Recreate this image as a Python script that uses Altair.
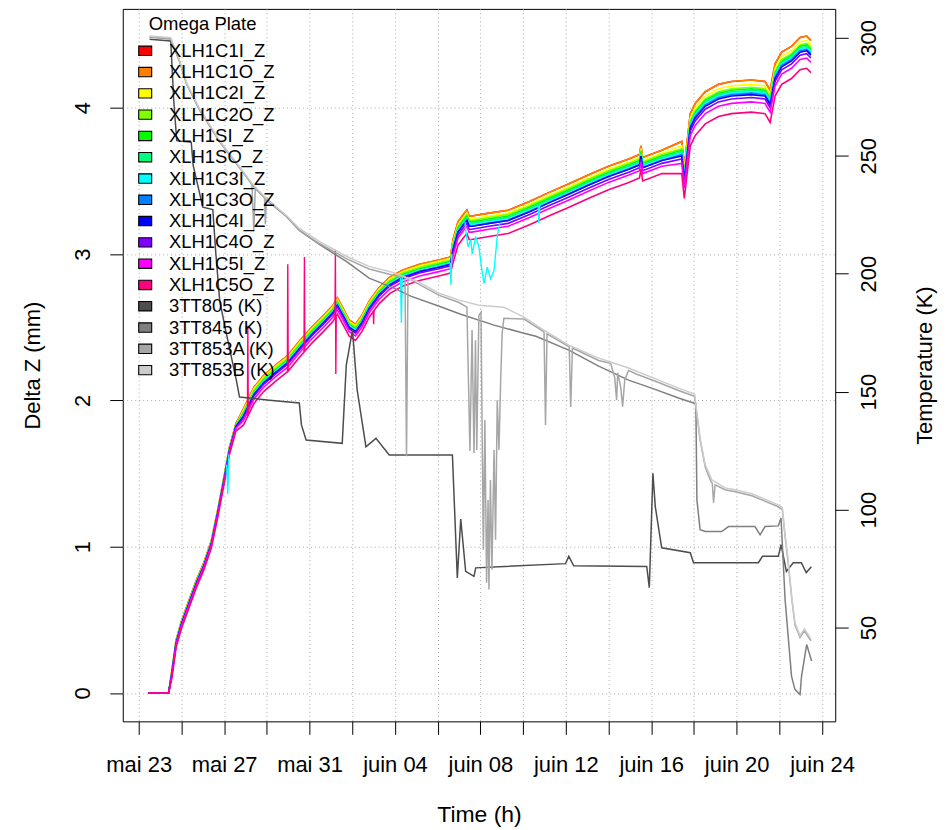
import json
import altair as alt
import pandas as pd

# ---------------- axes / labels ----------------
XTICKS = [0, 2, 4, 6, 8, 10, 12, 14, 16, 18, 20, 22, 24, 26, 28, 30, 32]   # days since mai 23
XLABELS = ["mai 23", "mai 27", "mai 31", "juin 04", "juin 08", "juin 12", "juin 16", "juin 20", "juin 24"]
Z_TICKS = [0, 1, 2, 3, 4]
T_TICKS = [50, 100, 150, 200, 250, 300]
LEGEND_TITLE = "Omega Plate"

Z_NAMES = ["XLH1C1I_Z", "XLH1C1O_Z", "XLH1C2I_Z", "XLH1C2O_Z", "XLH1SI_Z", "XLH1SO_Z",
           "XLH1C3I_Z", "XLH1C3O_Z", "XLH1C4I_Z", "XLH1C4O_Z", "XLH1C5I_Z", "XLH1C5O_Z"]
Z_COLORS = ["#FF0000", "#FF8000", "#FFFF00", "#80FF00", "#00FF00", "#00FF80",
            "#00FFFF", "#0080FF", "#0000FF", "#8000FF", "#FF00FF", "#FF0080"]
T_NAMES = ["3TT805 (K)", "3TT845 (K)", "3TT853A (K)", "3TT853B (K)"]
T_COLORS = ["#4D4D4D", "#7F7F7F", "#A6A6A6", "#CCCCCC"]

# ---------------- displacement (mm) ----------------
T_Z = [0.45, 1.40, 1.55, 1.75, 2.00, 2.40, 2.70, 3.05, 3.40, 3.70,
       4.00, 4.25, 4.55, 4.90, 5.40, 5.85, 6.40, 7.00, 7.50, 8.10,
       8.65, 9.10, 9.30, 9.60, 9.85, 10.15, 10.45, 10.80, 11.25, 11.75,
       12.35, 13.15, 14.05, 14.60, 14.72, 14.95, 15.20, 15.37, 15.47, 15.60,
       16.40, 17.30, 18.30, 19.20, 20.15, 21.05, 22.00, 22.95, 23.45, 23.52,
       23.60, 24.50, 25.43, 25.55, 25.83, 26.06, 26.53, 27.15, 27.76, 28.69,
       29.33, 29.57, 29.80, 30.11, 30.57, 30.97, 31.28, 31.48]
# top (orange) trace
Z_TOP = [0.00, 0.00, 0.15, 0.36, 0.49, 0.65, 0.77, 0.89, 1.04, 1.25,
         1.48, 1.68, 1.84, 1.94, 2.09, 2.17, 2.24, 2.31, 2.40, 2.50,
         2.58, 2.65, 2.70, 2.62, 2.55, 2.52, 2.58, 2.68, 2.77, 2.84,
         2.89, 2.93, 2.96, 2.98, 3.10, 3.22, 3.27, 3.30, 3.26, 3.26,
         3.28, 3.30, 3.36, 3.42, 3.48, 3.54, 3.60, 3.65, 3.68, 3.74,
         3.66, 3.71, 3.77, 3.60, 3.96, 4.03, 4.11, 4.16, 4.18, 4.19,
         4.18, 4.12, 4.30, 4.38, 4.42, 4.48, 4.49, 4.46]
# which spread period each sample belongs to
Z_PHASE = [0, 0, 1, 1, 1, 1, 1, 1, 1, 1,
           1, 1, 1, 2, 2, 2, 2, 2, 2, 2,
           2, 2, 2, 2, 2, 2, 2, 2, 2, 2,
           2, 2, 2, 2, 3, 3, 3, 3, 3, 3,
           3, 3, 3, 3, 3, 3, 3, 3, 3, 3,
           3, 3, 4, 4, 4, 4, 4, 4, 4, 4,
           4, 4, 4, 4, 4, 4, 4, 4]
# gap below the top trace, in 0.01 mm, for each period
Z_GAP = {
    "XLH1C1I_Z": [0, 0, 0, 0, 0],
    "XLH1C1O_Z": [0, 0, 0, 0, 0],
    "XLH1C2I_Z": [0, 1, 1, 2, 3],
    "XLH1C2O_Z": [0, 1, 2, 3, 5],
    "XLH1SI_Z":  [0, 1, 3, 4, 6],
    "XLH1SO_Z":  [0, 2, 4, 5, 7],
    "XLH1C3I_Z": [0, 2, 4, 6, 8],
    "XLH1C3O_Z": [0, 2, 5, 7, 9],
    "XLH1C4I_Z": [0, 2, 5, 7, 10],
    "XLH1C4O_Z": [0, 3, 6, 9, 12],
    "XLH1C5I_Z": [0, 3, 8, 11, 15],
    "XLH1C5O_Z": [0, 5, 11, 16, 22],
}
CYAN_DIP_T = [[4.12, 4.17, 4.22], [12.26, 12.30, 12.34], [14.58, 14.62, 14.66],
              [15.28, 15.31, 15.42, 15.55, 15.62, 15.78, 15.93, 16.09, 16.17, 16.32, 16.48, 16.64, 16.79, 16.90],
              [18.70, 18.74, 18.78]]
CYAN_DIP_Z = [[1.56, 1.36, 1.63], [2.84, 2.53, 2.85], [2.94, 2.79, 3.00],
              [3.22, 3.17, 3.05, 3.10, 3.00, 3.12, 3.05, 2.87, 2.80, 2.91, 2.83, 2.89, 3.12, 3.21],
              [3.33, 3.21, 3.33]]
ROSE_SPIKE_T = [[5.09, 5.11, 5.13], [6.96, 6.98, 7.00], [7.74, 7.76, 7.78],
                [9.19, 9.21, 9.23, 9.25], [10.98, 11.00, 11.02]]
ROSE_SPIKE_Z = [[1.89, 2.51, 1.90], [2.20, 2.93, 2.20], [2.33, 2.98, 2.34],
                [2.56, 3.03, 2.18, 2.57], [2.61, 2.52, 2.62]]

# ---------------- temperatures (K) ----------------
T805 = [0.51, 1.50, 1.64, 1.78, 2.46, 2.55, 3.00, 3.47, 3.60, 3.79, 4.07, 4.57, 4.72, 6.12, 7.52,
        7.62, 7.84, 9.53, 9.72, 10.01, 10.23, 10.64, 11.11, 11.73, 14.69, 14.92, 15.08, 15.31, 15.70,
        15.78, 19.99, 20.14, 20.37, 23.79, 23.91, 24.08, 24.19, 24.49, 25.83, 25.98, 29.02, 29.21,
        29.95, 30.08, 30.33, 30.65, 31.03, 31.26, 31.50]
K805 = [299.4, 298.7, 273.4, 256.4, 255.7, 245.9, 228.2, 227.2, 209.9, 188.7, 176.1, 154.9, 147.7, 146.4, 145.2,
        135.9, 129.5, 128.1, 161.3, 176.1, 150.7, 126.6, 130.2, 123.2, 123.2, 71.0, 96.0, 73.8, 71.7,
        75.3, 77.1, 80.2, 76.2, 75.9, 66.9, 115.4, 101.3, 83.8, 81.7, 77.5, 77.5, 80.2,
        80.2, 85.1, 73.8, 77.5, 77.5, 73.3, 75.8]
T845 = [0.51, 1.50, 1.92, 2.24, 2.85, 3.79, 4.72, 5.42, 6.12, 6.92, 7.52, 8.46, 9.72, 10.79, 11.87,
        12.74, 14.07, 15.08, 16.64, 18.04, 18.60, 20.14, 21.54, 22.94, 24.02, 25.28, 25.98, 26.09,
        26.14, 26.29, 26.53, 27.30, 27.62, 28.86, 29.10, 29.33, 29.95, 30.08, 30.27, 30.57, 30.73,
        30.97, 31.04, 31.28, 31.51]
K845 = [300.4, 299.6, 289.8, 280.5, 269.5, 256.0, 245.0, 236.5, 230.2, 224.3, 218.4, 212.4, 205.2, 198.1, 194.2,
        190.5, 186.2, 182.8, 178.2, 174.8, 173.5, 167.6, 160.8, 154.9, 151.5, 147.3, 145.2, 144.8,
        104.1, 91.5, 90.7, 90.7, 92.8, 92.8, 89.3, 92.8, 93.1, 96.4, 61.8, 29.4, 23.8,
        21.6, 29.4, 42.8, 35.8]
T853A = [0.51, 1.50, 1.92, 2.24, 2.85, 3.79, 4.72, 5.30, 5.39, 5.46, 5.89, 5.93, 5.98, 6.92, 7.52,
         8.46, 9.72, 10.79, 11.87, 12.47, 12.54, 12.61, 13.13, 14.07, 15.00, 15.37, 15.51, 15.61, 15.70,
         15.77, 15.83, 15.93, 16.03, 16.09, 16.14, 16.21, 16.29, 16.36, 16.40, 16.47, 16.54, 16.64,
         16.71, 16.79, 16.87, 16.95, 17.02, 17.10, 18.04, 18.98, 19.05, 19.12, 20.16, 20.23, 20.31,
         21.54, 22.10, 22.29, 22.38, 22.43, 22.57, 22.66, 22.76, 22.94, 23.30, 24.35, 25.28, 26.03,
         26.29, 26.53, 26.80, 26.86, 26.92, 26.99, 27.46, 27.93, 28.71, 29.95, 30.14, 30.27, 30.42,
         30.58, 30.73, 30.97, 31.17, 31.48]
K853A = [300.3, 299.5, 289.8, 280.5, 269.5, 255.9, 244.9, 238.0, 218.0, 236.5, 232.5, 221.0, 232.0, 224.2, 218.5,
         212.8, 206.4, 202.0, 199.5, 198.5, 122.6, 198.0, 195.5, 190.8, 187.8, 185.8, 124.9, 176.1, 124.0,
         171.8, 125.3, 182.4, 183.7, 125.3, 83.0, 138.0, 69.0, 104.1, 66.1, 112.6, 74.5, 125.3,
         87.2, 146.4, 125.3, 154.9, 174.8, 181.1, 180.8, 175.3, 135.9, 174.5, 169.0, 143.5, 168.5,
         163.2, 162.0, 156.0, 146.4, 158.0, 152.0, 143.6, 155.0, 159.0, 157.5, 153.9, 150.5, 148.0,
         129.5, 118.0, 111.8, 111.2, 102.9, 110.5, 108.4, 107.6, 105.9, 101.2, 100.0, 88.5, 77.0,
         62.3, 51.3, 45.8, 48.6, 44.4]
T853B = [0.51, 1.50, 1.92, 2.24, 2.85, 3.79, 4.72, 5.42, 6.12, 6.92, 7.52, 8.46, 9.72, 10.79, 11.87,
         13.13, 14.07, 15.00, 15.93, 17.10, 18.04, 18.97, 20.14, 21.54, 22.94, 24.35, 25.28, 26.03,
         26.29, 26.53, 26.84, 27.46, 27.93, 28.71, 29.95, 30.14, 30.27, 30.42, 30.58, 30.73, 30.97,
         31.17, 31.48]
K853B = [300.8, 300.0, 290.3, 281.0, 270.0, 256.4, 245.4, 237.0, 230.6, 224.7, 219.2, 213.7, 207.4, 203.1, 200.6,
         196.4, 191.7, 188.8, 186.6, 185.8, 181.6, 176.1, 169.7, 164.2, 160.0, 154.9, 151.5, 149.0,
         130.4, 119.0, 112.6, 109.2, 108.4, 106.7, 102.0, 100.8, 89.3, 77.9, 63.1, 52.1, 46.6,
         49.4, 45.2]

# ---------------- tables ----------------
def z_frame(name):
    g = Z_GAP[name]
    vals = [round(top - g[ph] / 100.0, 3) for top, ph in zip(Z_TOP, Z_PHASE)]
    return pd.DataFrame({"d": T_Z, "v": vals, "series": name, "seg": name})


def seg_frame(name, ts, zs):
    rows = []
    for k, (tt, zz) in enumerate(zip(ts, zs)):
        for t, z in zip(tt, zz):
            rows.append({"d": t, "v": z, "series": name, "seg": f"{name}_{k}"})
    return pd.DataFrame(rows)


def t_frame(name, ts, ks):
    return pd.DataFrame({"d": ts, "v": ks, "series": name})


ALL_NAMES = Z_NAMES + T_NAMES
ALL_COLORS = Z_COLORS + T_COLORS

FONT = "Liberation Sans"
GRID = "#a9a9a9"
LFS = 22      # tick label size
TFS = 22      # axis title size
TICK = 13
LABEL_EXPR = "datum.value % 4 == 0 ? " + json.dumps(XLABELS) + "[datum.value / 4] : ''"

xscale = alt.Scale(domain=[-0.748, 32.617], nice=False, zero=False)
zscale = alt.Scale(domain=[-0.194, 4.676], nice=False, zero=False)
tscale = alt.Scale(domain=[10.24, 312.27], nice=False, zero=False)

xaxis = alt.Axis(values=XTICKS, labelExpr=LABEL_EXPR, labelOverlap=False, labelFlush=False,
                 grid=True, gridDash=[1, 3], gridColor=GRID, gridWidth=1,
                 tickSize=TICK, tickColor="black", tickWidth=1, domain=False,
                 labelFontSize=LFS, labelPadding=20, labelColor="black", labelFont=FONT,
                 title="Time (h)", titleFontSize=TFS + 1, titleFontWeight="normal", titleColor="black",
                 titleFont=FONT, titleX=357, titleY=93, titleAlign="center", titleBaseline="middle")
zaxis = alt.Axis(orient="left", values=Z_TICKS, labelOverlap=False,
                 grid=True, gridDash=[1, 3], gridColor=GRID, gridWidth=1,
                 tickSize=TICK, tickColor="black", tickWidth=1, domain=False,
                 labelAngle=270, labelAlign="center", labelBaseline="bottom",
                 labelFontSize=LFS, labelPadding=15, labelColor="black", labelFont=FONT,
                 title="Delta Z (mm)", titleFontSize=TFS, titleFontWeight="normal", titleColor="black",
                 titleFont=FONT, titleAngle=270, titleX=-90, titleY=357,
                 titleAlign="center", titleBaseline="middle")
taxis = alt.Axis(orient="right", values=T_TICKS, labelOverlap=False, grid=False,
                 tickSize=TICK, tickColor="black", tickWidth=1, domain=False,
                 labelAngle=270, labelAlign="center", labelBaseline="top",
                 labelFontSize=LFS, labelPadding=10, labelColor="black", labelFont=FONT,
                 title="Temperature (K)", titleFontSize=TFS, titleFontWeight="normal", titleColor="black",
                 titleFont=FONT, titleAngle=270, titleX=89, titleY=357,
                 titleAlign="center", titleBaseline="middle")

STROKE = alt.Stroke("series:N", scale=alt.Scale(domain=ALL_NAMES, range=ALL_COLORS), legend=None)

X = alt.X("d:Q", scale=xscale, axis=xaxis)
YZ = alt.Y("v:Q", scale=zscale, axis=zaxis)
YT = alt.Y("v:Q", scale=tscale, axis=taxis)

z_layers = [alt.Chart(z_frame(n)).mark_line(strokeWidth=1.6, clip=True).encode(x=X, y=YZ, stroke=STROKE)
            for n in Z_NAMES]
z_layers.append(alt.Chart(seg_frame("XLH1C3I_Z", CYAN_DIP_T, CYAN_DIP_Z))
                .mark_line(strokeWidth=1.4, clip=True).encode(x=X, y=YZ, stroke=STROKE, detail="seg:N"))
z_layers.append(alt.Chart(seg_frame("XLH1C5O_Z", ROSE_SPIKE_T, ROSE_SPIKE_Z))
                .mark_line(strokeWidth=1.4, clip=True).encode(x=X, y=YZ, stroke=STROKE, detail="seg:N"))

t_data = [(T_NAMES[0], T805, K805), (T_NAMES[1], T845, K845),
          (T_NAMES[2], T853A, K853A), (T_NAMES[3], T853B, K853B)]
t_layers = [alt.Chart(t_frame(n, ts, ks)).mark_line(strokeWidth=1.5, clip=True).encode(x=X, y=YT, stroke=STROKE)
            for n, ts, ks in t_data]

# ---------------- legend (R-style filled boxes with black border, no frame) ----------------
legend_df = pd.DataFrame({"series": ALL_NAMES})
LEG_Y = alt.Y("series:N", axis=None,
              scale=alt.Scale(type="point", domain=ALL_NAMES, range=[42, 362], padding=0))
leg_boxes = alt.Chart(legend_df).mark_point(
    shape="M-1,-0.72H1V0.72H-1Z", size=169, filled=True, opacity=1,
    stroke="black", strokeWidth=1.1
).encode(x=alt.value(22.5), y=LEG_Y,
         fill=alt.Fill("series:N", scale=alt.Scale(domain=ALL_NAMES, range=ALL_COLORS), legend=None))
leg_text = alt.Chart(legend_df).mark_text(
    align="left", baseline="middle", fontSize=18.5, font=FONT, color="black"
).encode(x=alt.value(46.3), y=LEG_Y, text="series:N")
leg_title = alt.Chart(pd.DataFrame({"t": [LEGEND_TITLE]})).mark_text(
    align="center", baseline="middle", fontSize=18.5, font=FONT, color="black"
).encode(x=alt.value(80), y=alt.value(14.7), text="t:N")
legend_layer = alt.layer(leg_boxes, leg_text, leg_title)

chart = (
    alt.layer(alt.layer(*z_layers), alt.layer(*t_layers), legend_layer)
    .resolve_scale(y="independent")
    .properties(width=714, height=714,
                autosize=alt.AutoSizeParams(type="none"),
                padding={"left": 115, "top": 0, "right": 104, "bottom": 106})
    .configure(font=FONT)
    .configure_view(stroke="black", strokeWidth=1)
    .configure_axisLeft(labelAngle=270, labelAlign="center", labelBaseline="bottom")
    .configure_axisRight(labelAngle=270, labelAlign="center", labelBaseline="top")
)

chart.save("out.html", embed_options={"renderer": "svg", "actions": False})
